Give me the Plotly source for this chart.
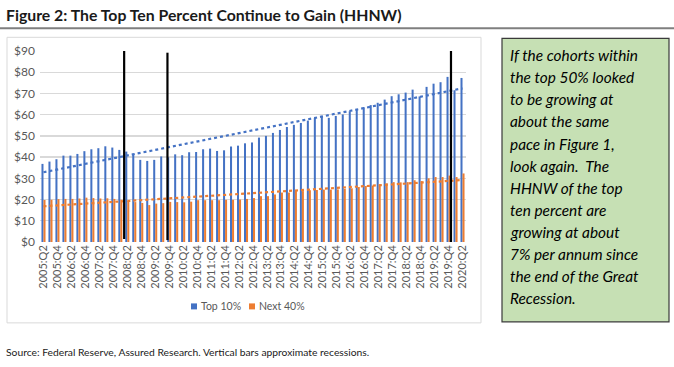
import numpy as np
import plotly.graph_objects as go

# ---------------- data ----------------
quarters = [
    "2005:Q2", "2005:Q3", "2005:Q4",
    "2006:Q1", "2006:Q2", "2006:Q3", "2006:Q4",
    "2007:Q1", "2007:Q2", "2007:Q3", "2007:Q4",
    "2008:Q1", "2008:Q2", "2008:Q3", "2008:Q4",
    "2009:Q1", "2009:Q2", "2009:Q3", "2009:Q4",
    "2010:Q1", "2010:Q2", "2010:Q3", "2010:Q4",
    "2011:Q1", "2011:Q2", "2011:Q3", "2011:Q4",
    "2012:Q1", "2012:Q2", "2012:Q3", "2012:Q4",
    "2013:Q1", "2013:Q2", "2013:Q3", "2013:Q4",
    "2014:Q1", "2014:Q2", "2014:Q3", "2014:Q4",
    "2015:Q1", "2015:Q2", "2015:Q3", "2015:Q4",
    "2016:Q1", "2016:Q2", "2016:Q3", "2016:Q4",
    "2017:Q1", "2017:Q2", "2017:Q3", "2017:Q4",
    "2018:Q1", "2018:Q2", "2018:Q3", "2018:Q4",
    "2019:Q1", "2019:Q2", "2019:Q3", "2019:Q4",
    "2020:Q1", "2020:Q2",
]

top10 = [
    36.8, 37.9, 39.0,
    40.7, 40.7, 41.5, 42.8,
    43.7, 44.2, 45.1, 44.5,
    43.4, 42.6, 41.6, 38.7,
    38.2, 38.7, 40.3, 39.9,
    41.3, 40.9, 42.3, 42.4,
    43.7, 44.0, 42.9, 43.2,
    45.0, 45.4, 46.5, 46.9,
    49.2, 50.0, 51.4, 52.8,
    54.2, 55.2, 56.1, 57.2,
    58.5, 59.4, 58.5, 59.4,
    60.1, 61.6, 62.6, 63.5,
    64.5, 65.6, 67.1, 68.7,
    69.6, 70.4, 71.8, 68.6,
    73.1, 74.6, 75.3, 77.8,
    71.5, 77.3,
]

next40 = [
    19.8, 19.9, 20.2,
    20.3, 20.3, 20.5, 20.9,
    20.7, 20.5, 20.6, 20.3,
    19.9, 19.4, 18.8, 18.4,
    17.4, 18.1, 18.3, 18.9,
    18.8, 18.7, 19.0, 19.7,
    19.7, 19.7, 19.7, 19.9,
    19.9, 20.0, 20.3, 20.7,
    21.6, 21.6, 22.4, 23.3,
    23.3, 24.1, 24.0, 24.4,
    24.5, 24.7, 24.7, 24.8,
    25.0, 25.3, 25.9, 26.4,
    26.6, 27.2, 27.6, 28.2,
    28.1, 28.2, 29.1, 28.7,
    30.0, 30.6, 30.6, 31.3,
    30.6, 32.3,
]

series_names = ["Top 10%", "Next 40%"]
# recession markers: position in quarter index units, bottom and top values
recession_pos = [11.55, 17.75, 58.35]
recession_low = [1.4, 0.9, 0.0]
recession_high = [90.3, 89.2, 90.0]

y_ticks = [0, 10, 20, 30, 40, 50, 60, 70, 80, 90]
y_tick_labels = ["$0", "$10", "$20", "$30", "$40", "$50", "$60", "$70", "$80", "$90"]
x_tick_labels = quarters[::2]

title_text = "Figure 2: The Top Ten Percent Continue to Gain (HHNW)"
source_text = "Source: Federal Reserve, Assured Research. Vertical bars approximate recessions."
note_lines = [
    "If the cohorts within",
    "the top 50% looked",
    "to be growing at",
    "about the same",
    "pace in Figure 1,",
    "look again.  The",
    "HHNW of the top",
    "ten percent are",
    "growing at about",
    "7% per annum since",
    "the end of the Great",
    "Recession.",
]

# ---------------- styling / layout ----------------
BLUE = "#4472C4"
ORANGE = "#ED7D31"
GRID = "#D9D9D9"
TXT = "#595959"
FONT = "Lato"

WIDTH, HEIGHT = 674, 367
L, R, T, B = 40, 466, 50.7, 242.0
PW, PH = R - L, B - T


def px(x):
    return (x - L) / PW


def py(y):
    return (B - y) / PH


idx = np.arange(len(quarters))
fit_top = np.polyval(np.polyfit(idx, top10, 1), idx)
fit_next = np.polyval(np.polyfit(idx, next40, 1), idx)

fig = go.Figure()
fig.add_trace(go.Bar(x=quarters, y=top10, name=series_names[0],
                     marker=dict(color=BLUE, line=dict(width=0)), showlegend=False))
fig.add_trace(go.Bar(x=quarters, y=next40, name=series_names[1],
                     marker=dict(color=ORANGE, line=dict(width=0)), showlegend=False))
fig.add_trace(go.Scatter(x=quarters, y=fit_top, mode="lines", showlegend=False,
                         line=dict(color=BLUE, width=2.2, dash="dot"), hoverinfo="skip"))
fig.add_trace(go.Scatter(x=quarters, y=fit_next, mode="lines", showlegend=False,
                         line=dict(color=ORANGE, width=2.2, dash="dot"), hoverinfo="skip"))

shapes = []
# recession bars
for xpos, lo, hi in zip(recession_pos, recession_low, recession_high):
    shapes.append(dict(type="line", xref="x", yref="y", x0=xpos, x1=xpos, y0=lo, y1=hi,
                       line=dict(color="#000000", width=2.2), layer="above"))
# chart frame
shapes.append(dict(type="rect", xref="paper", yref="paper",
                   x0=px(7), x1=px(481), y0=py(323), y1=py(37),
                   line=dict(color=GRID, width=1), layer="below"))
# rule under title
shapes.append(dict(type="line", xref="paper", yref="paper",
                   x0=px(0), x1=px(674), y0=py(28), y1=py(28),
                   line=dict(color="#7F7F7F", width=2)))
# green note box
shapes.append(dict(type="rect", xref="paper", yref="paper",
                   x0=px(502), x1=px(669), y0=py(322), y1=py(38),
                   fillcolor="#C6E0B4", line=dict(color="#3A3A3A", width=1.2), layer="below"))

# custom legend (small squares + labels)
legend_items = [(series_names[0], BLUE, 191), (series_names[1], ORANGE, 249)]
annotations = []
for name, col, x0 in legend_items:
    shapes.append(dict(type="rect", xref="paper", yref="paper",
                       x0=px(x0), x1=px(x0 + 6), y0=py(309.5), y1=py(303.5),
                       fillcolor=col, line=dict(width=0)))
    annotations.append(dict(text=name, xref="paper", yref="paper",
                            x=px(x0 + 7.5), y=py(306.5), xanchor="left", yanchor="middle",
                            showarrow=False, font=dict(family=FONT, size=10.5, color=TXT)))

annotations += [
    dict(text="<b>" + title_text + "</b>", xref="paper", yref="paper",
         x=px(4), y=py(14), xanchor="left", yanchor="middle", showarrow=False,
         font=dict(family=FONT, size=15.8, color="#1a1a1a")),
    dict(text=source_text, xref="paper", yref="paper",
         x=px(4), y=py(352), xanchor="left", yanchor="middle", showarrow=False,
         font=dict(family=FONT, size=10.3, color="#1a1a1a")),
]
for i, line in enumerate(note_lines):
    annotations.append(dict(text="<i>" + line + "</i>", xref="paper", yref="paper",
                            x=px(508), y=py(55 + 22.1 * i), xanchor="left", yanchor="middle",
                            showarrow=False, font=dict(family=FONT, size=15.4, color="#000000")))

fig.update_layout(
    width=WIDTH, height=HEIGHT, autosize=False,
    margin=dict(l=L, r=WIDTH - R, t=T, b=HEIGHT - B, pad=0),
    paper_bgcolor="white", plot_bgcolor="white",
    barmode="group", bargap=0.42, bargroupgap=0.0,
    font=dict(family=FONT, color=TXT),
    shapes=shapes, annotations=annotations,
    showlegend=False,
    xaxis=dict(type="category", tickmode="array", tickvals=x_tick_labels, ticktext=x_tick_labels,
               tickangle=-90, tickfont=dict(family=FONT, size=11, color=TXT),
               showgrid=False, showline=False, ticks="", zeroline=False, automargin=False,
               range=[-0.5, len(quarters) - 0.5]),
    yaxis=dict(range=[0, 90], tickmode="array", tickvals=y_ticks, ticktext=y_tick_labels,
               tickfont=dict(family=FONT, size=12, color=TXT), gridcolor=GRID, gridwidth=1.3,
               zeroline=False, showline=False, ticks="", ticklabelstandoff=4, automargin=False),
    hovermode=False,
)

fig.write_html(
    "out.html",
    config={"displayModeBar": False, "staticPlot": True},
    post_script="document.body.style.margin='0';document.body.style.overflow='hidden';",
)
